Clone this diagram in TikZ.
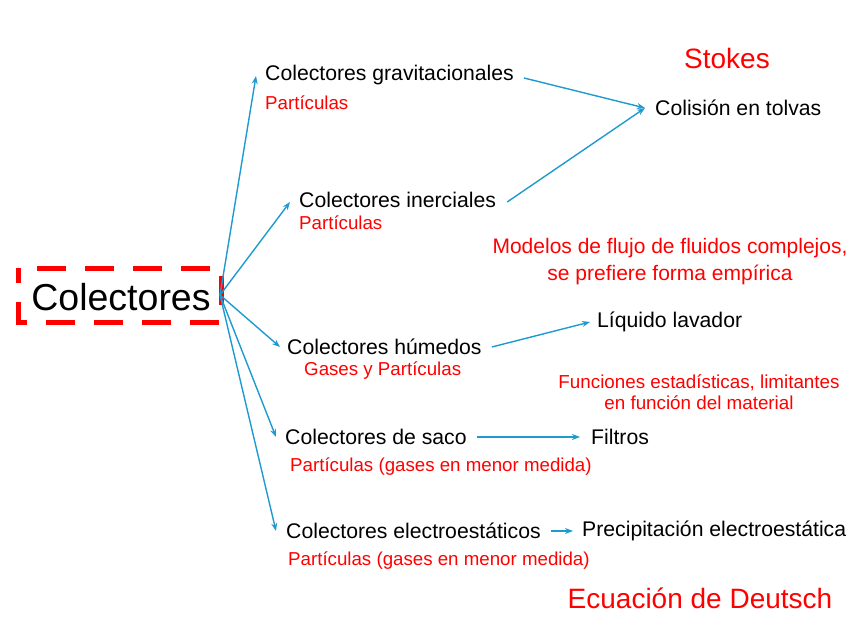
\documentclass[tikz,border=0pt]{standalone}
\usepackage{fontspec}
\setmainfont{Liberation Sans}
\usetikzlibrary{arrows.meta}
\definecolor{arrblue}{HTML}{1E9AD0}
\definecolor{txtred}{HTML}{FF0000}
\tikzset{
  arr/.style={draw=arrblue, line width=1.4pt, -{Stealth[length=8pt,width=6pt]}},
  blk/.style={anchor=west, inner sep=0pt, text=black, font=\fontsize{21.2}{24}\selectfont},
  sub/.style={anchor=west, inner sep=0pt, text=txtred, font=\fontsize{18.7}{22}\selectfont},
  note/.style={inner sep=0pt, text=txtred, align=center, font=\fontsize{21}{27}\selectfont},
  big/.style={inner sep=0pt, text=txtred, font=\fontsize{28}{32}\selectfont},
}
\begin{document}
\begin{tikzpicture}[x=1pt,y=-1pt]
\useasboundingbox (0,0) rectangle (848,636);
% root
\node[inner sep=0pt, font=\fontsize{37.5}{40}\selectfont] (roottxt) at (121,297) {Colectores};
\draw[txtred, line width=5pt, dash pattern=on 29pt off 19pt, dash phase=14pt] (18,268) rectangle (221,322);
\coordinate (root) at (220,295);
% branches
\node[blk] (grav) at (265,75) {Colectores gravitacionales};
\node[sub] (gravs) at (265,103) {Partículas};
\node[blk] (iner) at (299,200) {Colectores inerciales};
\node[sub] (iners) at (299,223) {Partículas};
\node[blk] (hum) at (287,347) {Colectores húmedos};
\node[sub] (hums) at (304,371) {Gases y Partículas};
\node[blk] (saco) at (285,437) {Colectores de saco};
\node[sub] (sacos) at (290,467) {Partículas (gases en menor medida)};
\node[blk] (elec) at (286,531) {Colectores electroestáticos};
\node[sub] (elecs) at (288,561) {Partículas (gases en menor medida)};
% targets
\node[blk] (col) at (655,108) {Colisión en tolvas};
\node[blk] (liq) at (597,322) {Líquido lavador};
\node[blk] (fil) at (591,437) {Filtros};
\node[blk] (pre) at (582,531) {Precipitación electroestática};
% notes
\node[big] (stokes) at (727,58) {Stokes};
\node[note] (mod) at (670,262) {Modelos de flujo de fluidos complejos,\\se prefiere forma empírica};
\node[note, font=\fontsize{18.8}{21}\selectfont] (fun) at (699,392) {Funciones estadísticas, limitantes\\en función del material};
\node[big] (deu) at (700,598) {Ecuación de Deutsch};
% arrows from root
\draw[arr] (root) -- ([xshift=-9pt,yshift=-1pt]grav.west);
\draw[arr] (root) -- ([xshift=-9pt,yshift=-2pt]iner.west);
\draw[arr] (root) -- ([xshift=-7pt]hum.west);
\draw[arr] (root) -- ([xshift=-9pt]saco.west);
\draw[arr] (root) -- ([xshift=-10pt]elec.west);
% arrows to targets
\draw[arr] ([xshift=10pt,yshift=-3pt]grav.east) -- ([xshift=-10pt]col.west);
\draw[arr] ([xshift=11pt,yshift=-2pt]iner.east) -- ([xshift=-10pt]col.west);
\draw[arr] ([xshift=10pt]hum.east) -- ([xshift=-7pt]liq.west);
\draw[arr] ([xshift=10pt]saco.east) -- ([xshift=-11pt]fil.west);
\draw[arr] ([xshift=10pt]elec.east) -- ([xshift=-9pt]pre.west);
\end{tikzpicture}
\end{document}
